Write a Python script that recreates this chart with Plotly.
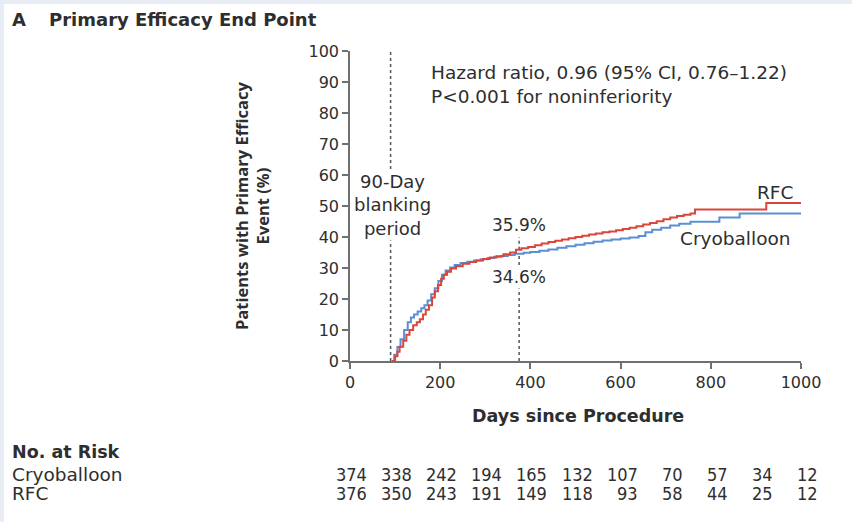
import plotly.graph_objects as go

# ---- data -------------------------------------------------------------
x_ticks = [0, 200, 400, 600, 800, 1000]
y_ticks = [0, 10, 20, 30, 40, 50, 60, 70, 80, 90, 100]

rfc_days = [93, 100, 105, 110, 118, 125, 132, 140, 148, 155, 162, 168, 175, 182,
            188, 195, 202, 208, 215, 224, 235, 250, 265, 280, 295, 310, 325, 340,
            355, 368, 380, 395, 410, 425, 440, 455, 470, 485, 500, 515, 530, 545,
            560, 575, 590, 605, 620, 635, 650, 665, 680, 695, 710, 725, 740, 755,
            765, 923, 1000]
rfc_pct = [0, 1.5, 3.0, 4.6, 6.5, 8.5, 10.0, 11.5, 12.5, 13.5, 15.0, 16.5, 18.0, 20.5,
           22.5, 24.5, 26.5, 27.8, 28.8, 29.8, 30.6, 31.4, 31.9, 32.4, 32.9, 33.4, 33.8, 34.4,
           35.0, 35.9, 36.4, 36.8, 37.3, 37.9, 38.4, 38.8, 39.2, 39.6, 40.0, 40.4, 40.8, 41.1,
           41.5, 41.8, 42.2, 42.6, 43.0, 43.5, 44.0, 44.5, 45.1, 45.7, 46.3, 46.8, 47.2, 47.6,
           48.9, 51.0, 51.0]

cryo_days = [92, 98, 105, 112, 120, 128, 135, 142, 150, 158, 165, 172, 180, 188,
             196, 204, 212, 222, 232, 245, 260, 275, 290, 305, 320, 335, 350, 365,
             385, 400, 420, 440, 460, 480, 500, 520, 540, 560, 580, 600, 620, 640,
             655, 670, 690, 710, 730, 755, 819, 864, 1000]
cryo_pct = [0, 2.0, 4.5, 7.0, 10.0, 12.5, 14.0, 15.0, 16.0, 17.0, 18.0, 19.5, 21.5, 23.5,
            25.8, 27.8, 29.2, 30.2, 31.0, 31.6, 32.0, 32.4, 32.8, 33.2, 33.6, 33.9, 34.2, 34.6,
            34.9, 35.2, 35.6, 36.0, 36.5, 37.0, 37.5, 38.0, 38.5, 38.9, 39.2, 39.5, 39.8, 40.3,
            41.5, 42.3, 43.0, 43.7, 44.3, 44.9, 46.3, 47.6, 47.6]

risk_days = [0, 100, 200, 300, 400, 500, 600, 700, 800, 900, 1000]
risk_cryo = [374, 338, 242, 194, 165, 132, 107, 70, 57, 34, 12]
risk_rfc = [376, 350, 243, 191, 149, 118, 93, 58, 44, 25, 12]

blanking_day = 90
landmark_day = 375
landmark_rfc = 35.9
landmark_cryo = 34.6

# ---- layout constants ---------------------------------------------------
W, H = 852, 522
ML, MR, MT, MB = 350, 51, 51, 161
PW, PH = W - ML - MR, H - MT - MB

WIDE = "DejaVu Sans"
BOLDY = "Open Sans"
NARROW = "Liberation Sans Narrow, DejaVu Sans Condensed, sans-serif"
TXT = "#2e2e2e"
AX = "#707070"
RED = "#d9473c"
BLUE = "#5b8fd3"
DASH = dict(color="#555", width=1.5, dash="3px,3px")


def px(xp):
    return (xp - ML) / PW


def py(yp):
    return (H - MB - yp) / PH


def label(x, y, text, size=17, family=WIDE, anchor="left", **kw):
    d = dict(xref="paper", yref="paper", x=px(x), y=py(y), xanchor=anchor,
             yanchor="middle", text=text, showarrow=False,
             font=dict(family=family, size=size, color=TXT))
    d.update(kw)
    return d


fig = go.Figure()

fig.add_trace(go.Scatter(x=cryo_days, y=cryo_pct, mode="lines", line_shape="hv",
                         line=dict(color=BLUE, width=2), name="Cryoballoon",
                         showlegend=False))
fig.add_trace(go.Scatter(x=rfc_days, y=rfc_pct, mode="lines", line_shape="hv",
                         line=dict(color=RED, width=2), name="RFC",
                         showlegend=False))

shapes = [
    # pale frame strips along the left and top edges
    dict(type="rect", xref="paper", yref="paper", x0=px(0), x1=px(4), y0=py(H), y1=py(0),
         fillcolor="#e8ecf4", line=dict(width=0), layer="below"),
    dict(type="rect", xref="paper", yref="paper", x0=px(0), x1=px(W), y0=py(4), y1=py(0),
         fillcolor="#e8ecf4", line=dict(width=0), layer="below"),
    # blanking period marker
    dict(type="line", xref="x", yref="y", x0=blanking_day, x1=blanking_day, y0=0, y1=101,
         line=DASH, layer="below"),
    # one-year landmark marker
    dict(type="line", xref="x", yref="y", x0=landmark_day, x1=landmark_day, y0=0,
         y1=landmark_cryo, line=DASH, layer="below"),
    dict(type="line", xref="x", yref="y", x0=landmark_day, x1=landmark_day,
         y0=landmark_rfc, y1=landmark_rfc + 4, line=DASH, layer="below"),
]

ann = [
    label(10, 20, "<b>A</b>", size=18),
    label(47, 20, "<b>Primary Efficacy End Point</b>", size=18),
    label(252, 206, "<b>Patients with Primary Efficacy<br>Event (%)</b>", size=16.5,
          family=BOLDY, anchor="center", textangle=-90),
    label(578, 416, "<b>Days since Procedure</b>", size=17.5, anchor="center"),
    label(429, 84, "Hazard ratio, 0.96 (95% CI, 0.76\u20131.22)<br>P<0.001 for noninferiority",
          size=18.5, align="left"),
    dict(xref="x", yref="paper", x=blanking_day, xshift=2, y=py(205), xanchor="center",
         yanchor="middle", text="90-Day<br>blanking<br>period", showarrow=False,
         bgcolor="white", font=dict(family=WIDE, size=18, color=TXT)),
    dict(xref="x", yref="y", x=landmark_day, y=landmark_rfc, yshift=25,
         xanchor="center", yanchor="middle", text=f"{landmark_rfc}%", showarrow=False,
         font=dict(family=WIDE, size=17, color=TXT)),
    dict(xref="x", yref="y", x=landmark_day, y=landmark_cryo, yshift=-23,
         xanchor="center", yanchor="middle", text=f"{landmark_cryo}%", showarrow=False,
         bgcolor="white", font=dict(family=WIDE, size=17, color=TXT)),
    label(795, 193, "RFC", size=18.5, anchor="right"),
    label(735, 238, "Cryoballoon", size=18.5, anchor="center"),
    # number-at-risk table
    label(10, 452, "<b>No. at Risk</b>", size=17.5),
    label(10, 474, "Cryoballoon", size=18.5),
    label(10, 493, "RFC", size=18.5),
]
for d, c, r in zip(risk_days, risk_cryo, risk_rfc):
    for row_y, val in ((474, c), (493, r)):
        ann.append(dict(xref="x", yref="paper", x=d, xshift=19, y=py(row_y),
                        xanchor="right", yanchor="middle", text=str(val), showarrow=False,
                        font=dict(family=NARROW, size=18, color=TXT)))

fig.update_layout(
    width=W, height=H,
    margin=dict(l=ML, r=MR, t=MT, b=MB),
    paper_bgcolor="white", plot_bgcolor="white",
    shapes=shapes, annotations=ann,
    font=dict(family=WIDE, color=TXT),
)
axis_style = dict(ticks="outside", ticklen=6, tickcolor=AX, tickwidth=1.5,
                  showline=True, linecolor=AX, linewidth=1.5,
                  showgrid=False, zeroline=False,
                  tickfont=dict(family=WIDE, size=16, color=TXT))
fig.update_xaxes(range=[0, 1000], tickvals=x_ticks, **axis_style)
fig.update_yaxes(range=[0, 100], tickvals=y_ticks, **axis_style)

fig.write_html("out.html")
